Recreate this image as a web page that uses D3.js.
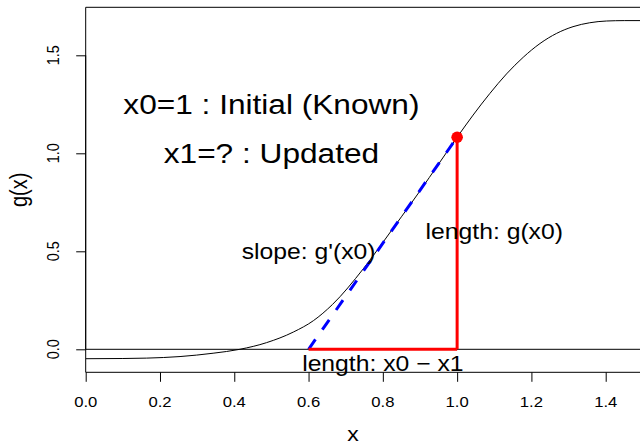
<!DOCTYPE html>
<html>
<head>
<meta charset="utf-8">
<script src="https://cdn.jsdelivr.net/npm/d3@7"></script>
<style>
  html, body { margin: 0; padding: 0; background: #fff; }
  svg { display: block; }
  text { font-family: "Liberation Sans", Arial, Helvetica, sans-serif; fill: #000; }
</style>
</head>
<body>
<div id="chart"></div>
<script>
// Curve g(x) sampled along x
const curveX = [0, 0.1, 0.164, 0.254, 0.343, 0.415, 0.487, 0.559, 0.613, 0.664, 0.747,
                0.8, 0.85, 0.9, 0.95, 1.0, 1.043, 1.088, 1.133, 1.178, 1.223, 1.268,
                1.312, 1.357, 1.402, 1.45, 1.5];
const curveY = [-0.048, -0.047, -0.045, -0.037, -0.020, 0.0, 0.034, 0.088, 0.146, 0.228, 0.410,
                0.545, 0.676, 0.808, 0.945, 1.082, 1.195, 1.305, 1.405, 1.49, 1.56, 1.612,
                1.646, 1.666, 1.675, 1.677, 1.677];

// Newton step: known point x0, updated point x1 where the tangent meets zero
const x0 = 1.0;
const gx0 = 1.082;
const x1 = 0.6;

const xTicks = [0, 0.2, 0.4, 0.6, 0.8, 1.0, 1.2, 1.4];
const yTicks = [0, 0.5, 1.0, 1.5];
const xTickLabels = ["0.0", "0.2", "0.4", "0.6", "0.8", "1.0", "1.2", "1.4"];
const yTickLabels = ["0.0", "0.5", "1.0", "1.5"];

const titleLines = ["x0=1 : Initial (Known)", "x1=? : Updated"];
const slopeLabel = "slope: g'(x0)";
const heightLabel = "length: g(x0)";
const baseLabel = "length: x0 \u2212 x1";
const xTitle = "x";
const yTitle = "g(x)";

const W = 640, H = 447;
const SX = 1.15; // horizontal stretch applied to glyphs

const svg = d3.select("#chart").append("svg")
  .attr("width", W).attr("height", H);

const x = d3.scaleLinear().domain([0, 1.4]).range([85.7, 605.7]);
const y = d3.scaleLinear().domain([0, 1.5]).range([349.3, 55.3]);

const plotLeft = x(0), plotTop = 7.3, plotBottom = 372.3, plotRight = 660;

svg.append("defs").append("clipPath").attr("id", "plot-clip")
  .append("rect").attr("x", plotLeft).attr("y", plotTop)
  .attr("width", plotRight - plotLeft).attr("height", plotBottom - plotTop);

function label(parent, txt, px, py, size, rotate) {
  return parent.append("text")
    .attr("transform", `translate(${px},${py}) scale(${SX},1)` + (rotate ? " rotate(-90)" : ""))
    .attr("text-anchor", "middle")
    .style("font-size", size + "px")
    .text(txt);
}

const plot = svg.append("g").attr("clip-path", "url(#plot-clip)");

// horizontal reference line at zero
plot.append("line")
  .attr("x1", plotLeft).attr("x2", plotRight)
  .attr("y1", y(0)).attr("y2", y(0))
  .attr("stroke", "#000").attr("stroke-width", 1);

// g(x)
const line = d3.line().x(d => x(d[0])).y(d => y(d[1])).curve(d3.curveMonotoneX);
plot.append("path")
  .datum(d3.zip(curveX, curveY))
  .attr("d", line)
  .attr("fill", "none").attr("stroke", "#000").attr("stroke-width", 1);

// tangent line at x0
plot.append("line")
  .attr("x1", x(x1)).attr("y1", y(0))
  .attr("x2", x(x0)).attr("y2", y(gx0))
  .attr("stroke", "#0000ff").attr("stroke-width", 3)
  .attr("stroke-dasharray", "12,12");

// legs of the triangle
plot.append("line")
  .attr("x1", x(x0)).attr("y1", y(0))
  .attr("x2", x(x0)).attr("y2", y(gx0))
  .attr("stroke", "#ff0000").attr("stroke-width", 3);
plot.append("line")
  .attr("x1", x(x1)).attr("y1", y(0))
  .attr("x2", x(x0)).attr("y2", y(0))
  .attr("stroke", "#ff0000").attr("stroke-width", 3);

// known point
plot.append("circle")
  .attr("cx", x(x0)).attr("cy", y(gx0)).attr("r", 5.8)
  .attr("fill", "#ff0000");

// annotations
const ann = svg.append("g");
const bigSize = 27.5, annSize = 21.5;
label(ann, titleLines[0], x(0.5), y(1.25) + 0.34 * bigSize, bigSize);
label(ann, titleLines[1], x(0.5), y(1.0) + 0.34 * bigSize, bigSize);
label(ann, slopeLabel, x(0.6), y(0.5) + 0.34 * annSize, annSize);
label(ann, heightLabel, x(1.1), y(0.6) + 0.34 * annSize, annSize);
label(ann, baseLabel, x(0.8), y(-0.075) + 0.34 * annSize, annSize);

// box
svg.append("path")
  .attr("d", `M${plotRight},${plotTop}H${plotLeft}V${plotBottom}H${plotRight}`)
  .attr("fill", "none").attr("stroke", "#000").attr("stroke-width", 1);

// x axis
const xAxis = svg.append("g").attr("transform", `translate(0,${plotBottom})`)
  .call(d3.axisBottom(x).tickValues(xTicks).tickSize(9.5).tickFormat(""));
xAxis.select(".domain").remove();
xAxis.selectAll(".tick line").attr("stroke", "#000");
xTicks.forEach((v, i) => label(svg, xTickLabels[i], x(v), 407.3, 14.5));

// y axis
const yAxis = svg.append("g").attr("transform", `translate(${plotLeft},0)`)
  .call(d3.axisLeft(y).tickValues(yTicks).tickSize(9.5).tickFormat(""));
yAxis.select(".domain").attr("d", `M0,${y(0)}V${y(1.5)}`);
yAxis.selectAll(".tick line").attr("stroke", "#000");
yTicks.forEach((v, i) => label(svg, yTickLabels[i], 59.3, y(v), 14.5, true));

// axis titles
label(svg, xTitle, 353, 441, 20);
label(svg, yTitle, 27, (plotTop + plotBottom) / 2, 20, true);
</script>
</body>
</html>
